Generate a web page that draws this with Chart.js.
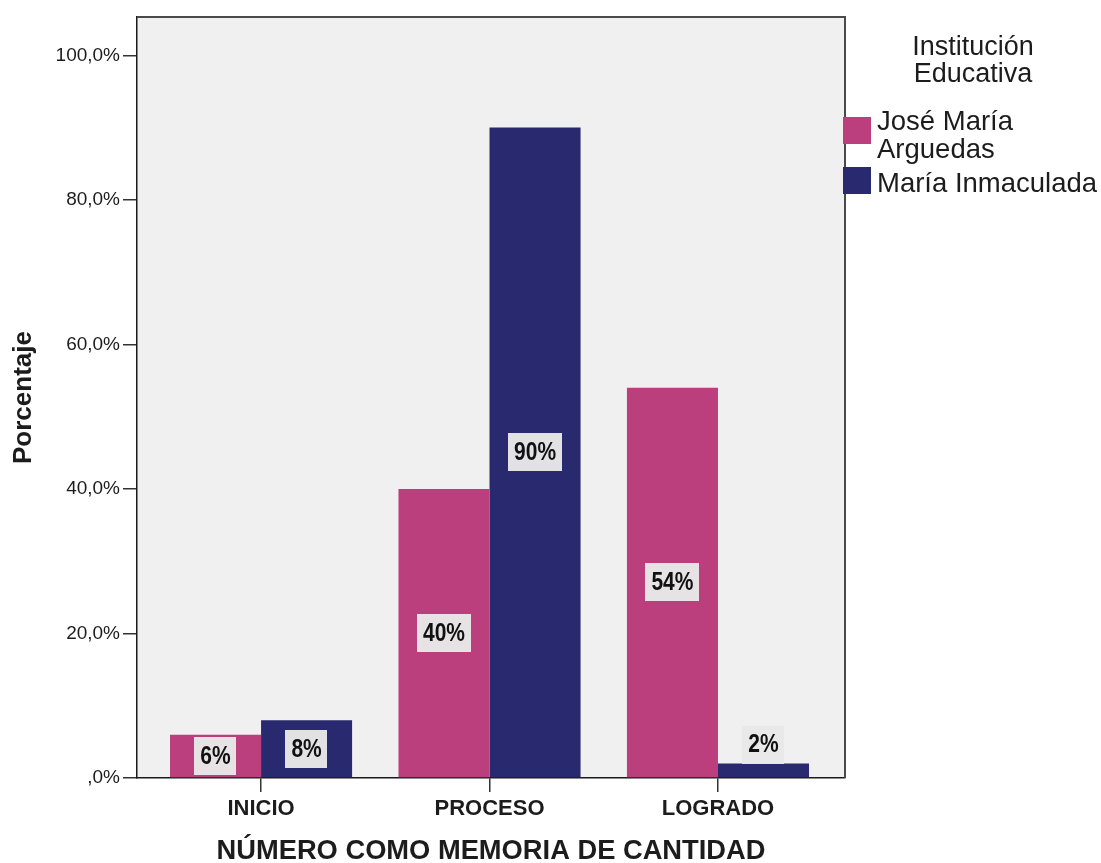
<!DOCTYPE html>
<html>
<head>
<meta charset="utf-8">
<script src="https://cdn.jsdelivr.net/npm/chart.js@4/dist/chart.umd.min.js"></script>
<style>
  html, body { margin: 0; padding: 0; background: #ffffff; }
  canvas { display: block; }
</style>
</head>
<body>
<canvas id="chart" width="1101" height="863"></canvas>
<script>
// Categories and series values (percent)
const categories = ['INICIO', 'PROCESO', 'LOGRADO'];
const seriesNames = ['José María Arguedas', 'María Inmaculada'];
const legendLines = [['José María', 'Arguedas'], ['María Inmaculada']];
const legendTitle = ['Institución', 'Educativa'];
const joseMariaArguedas = [6, 40, 54];
const mariaInmaculada = [8, 90, 2];
const yTickValues = [0, 20, 40, 60, 80, 100];
const xTitle = 'NÚMERO COMO MEMORIA DE CANTIDAD';
const yTitle = 'Porcentaje';

const seriesColors = ['#BA3F7C', '#29296F'];
const plotBg = '#F0F0F0';
const textColor = '#1c1c1c';
const SANS = '"Liberation Sans", Arial, sans-serif';

const toPoints = arr => arr.map((v, i) => ({ x: i, y: v }));

// Grey plot background plus the top/right frame lines
const plotFrame = {
  id: 'plotFrame',
  beforeDraw(chart) {
    const { ctx, chartArea: a } = chart;
    ctx.save();
    ctx.fillStyle = plotBg;
    ctx.fillRect(a.left, a.top, a.right - a.left, a.bottom - a.top);
    ctx.restore();
  },
  afterDatasetsDraw(chart) {
    const { ctx, chartArea: a } = chart;
    ctx.save();
    ctx.strokeStyle = '#4a4a4a';
    ctx.lineWidth = 2;
    ctx.beginPath();
    ctx.moveTo(a.left, a.top);
    ctx.lineTo(a.right, a.top);
    ctx.lineTo(a.right, a.bottom);
    ctx.stroke();
    ctx.restore();
  }
};

// Percent labels in light boxes on each bar (condensed bold text)
const valueLabels = {
  id: 'valueLabels',
  afterDatasetsDraw(chart) {
    const ctx = chart.ctx;
    const squeeze = 0.84;
    ctx.save();
    ctx.font = 'bold 25px ' + SANS;
    ctx.textAlign = 'center';
    ctx.textBaseline = 'middle';
    chart.data.datasets.forEach((ds, di) => {
      chart.getDatasetMeta(di).data.forEach((bar, i) => {
        const v = ds.data[i].y;
        const text = v + '%';
        const tw = ctx.measureText(text).width * squeeze;
        const w = tw + 12;
        const h = 38;
        const top = Math.min(bar.y, bar.base);
        const bottom = Math.max(bar.y, bar.base);
        let cy = (top + bottom) / 2;
        if (bottom - top < h) cy = top - h / 2;
        ctx.fillStyle = 'rgba(232,232,232,0.97)';
        ctx.fillRect(Math.round(bar.x - w / 2), Math.round(cy - h / 2), Math.round(w), h);
        ctx.fillStyle = '#111111';
        ctx.save();
        ctx.translate(bar.x, cy + 1);
        ctx.scale(squeeze, 1);
        ctx.fillText(text, 0, 0);
        ctx.restore();
      });
    });
    ctx.restore();
  }
};

// Legend with title, drawn at the right of the plot
const sideLegend = {
  id: 'sideLegend',
  afterDraw(chart) {
    const { ctx, chartArea: a } = chart;
    ctx.save();
    ctx.fillStyle = textColor;
    ctx.font = '27px ' + SANS;
    ctx.textBaseline = 'alphabetic';
    ctx.textAlign = 'center';
    ctx.fillText(legendTitle[0], a.right + 128, 55);
    ctx.fillText(legendTitle[1], a.right + 128, 82);
    ctx.textAlign = 'left';
    ctx.font = '27.5px ' + SANS;
    const swatchTops = [117, 167];
    const baselines = [[130, 158], [192]];
    chart.data.datasets.forEach((ds, di) => {
      ctx.fillStyle = ds.backgroundColor;
      ctx.fillRect(a.right - 2, swatchTops[di], 28, 27);
      ctx.fillStyle = textColor;
      legendLines[di].forEach((line, li) => {
        ctx.fillText(line, a.right + 32, baselines[di][li]);
      });
    });
    ctx.restore();
  }
};

new Chart(document.getElementById('chart'), {
  type: 'bar',
  data: {
    datasets: [
      { label: seriesNames[0], data: toPoints(joseMariaArguedas), backgroundColor: seriesColors[0] },
      { label: seriesNames[1], data: toPoints(mariaInmaculada), backgroundColor: seriesColors[1] }
    ]
  },
  options: {
    responsive: false,
    animation: false,
    devicePixelRatio: 1,
    categoryPercentage: 0.797,
    barPercentage: 1.0,
    layout: { padding: { top: 17, right: 256, bottom: 0, left: 0 } },
    plugins: {
      legend: { display: false },
      tooltip: { enabled: false }
    },
    scales: {
      x: {
        type: 'linear',
        offset: false,
        min: -0.543,
        max: 2.556,
        afterBuildTicks: s => { s.ticks = categories.map((c, i) => ({ value: i })); },
        afterFit: s => { s.height = 85; },
        ticks: {
          callback: v => categories[v],
          color: textColor,
          font: { family: SANS, size: 22, weight: 'bold' },
          padding: 4,
          maxRotation: 0,
          autoSkip: false
        },
        grid: { display: true, offset: false, drawOnChartArea: false, drawTicks: true, tickLength: 14, color: '#333333', lineWidth: 1.5 },
        border: { display: true, color: '#1a1a1a', width: 1.5 },
        title: {
          display: true,
          text: xTitle,
          color: textColor,
          font: { family: SANS, size: 27.3, weight: 'bold', lineHeight: 0.85 },
          padding: { top: 0, bottom: 0 }
        }
      },
      y: {
        min: 0,
        max: 105.3,
        afterBuildTicks: s => { s.ticks = yTickValues.map(v => ({ value: v })); },
        afterFit: s => { s.width = 137; },
        ticks: {
          callback: v => (v === 0 ? ',0%' : v.toFixed(1).replace('.', ',') + '%'),
          color: textColor,
          font: { family: SANS, size: 19 },
          padding: 3
        },
        grid: { display: true, drawOnChartArea: false, drawTicks: true, tickLength: 14, color: '#333333', lineWidth: 1.5 },
        border: { display: true, color: '#1a1a1a', width: 1.5 },
        title: {
          display: true,
          text: yTitle,
          color: textColor,
          font: { family: SANS, size: 26, weight: 'bold', lineHeight: 1.1 },
          padding: { top: 10, bottom: 0 }
        }
      }
    }
  },
  plugins: [plotFrame, valueLabels, sideLegend]
});
</script>
</body>
</html>
